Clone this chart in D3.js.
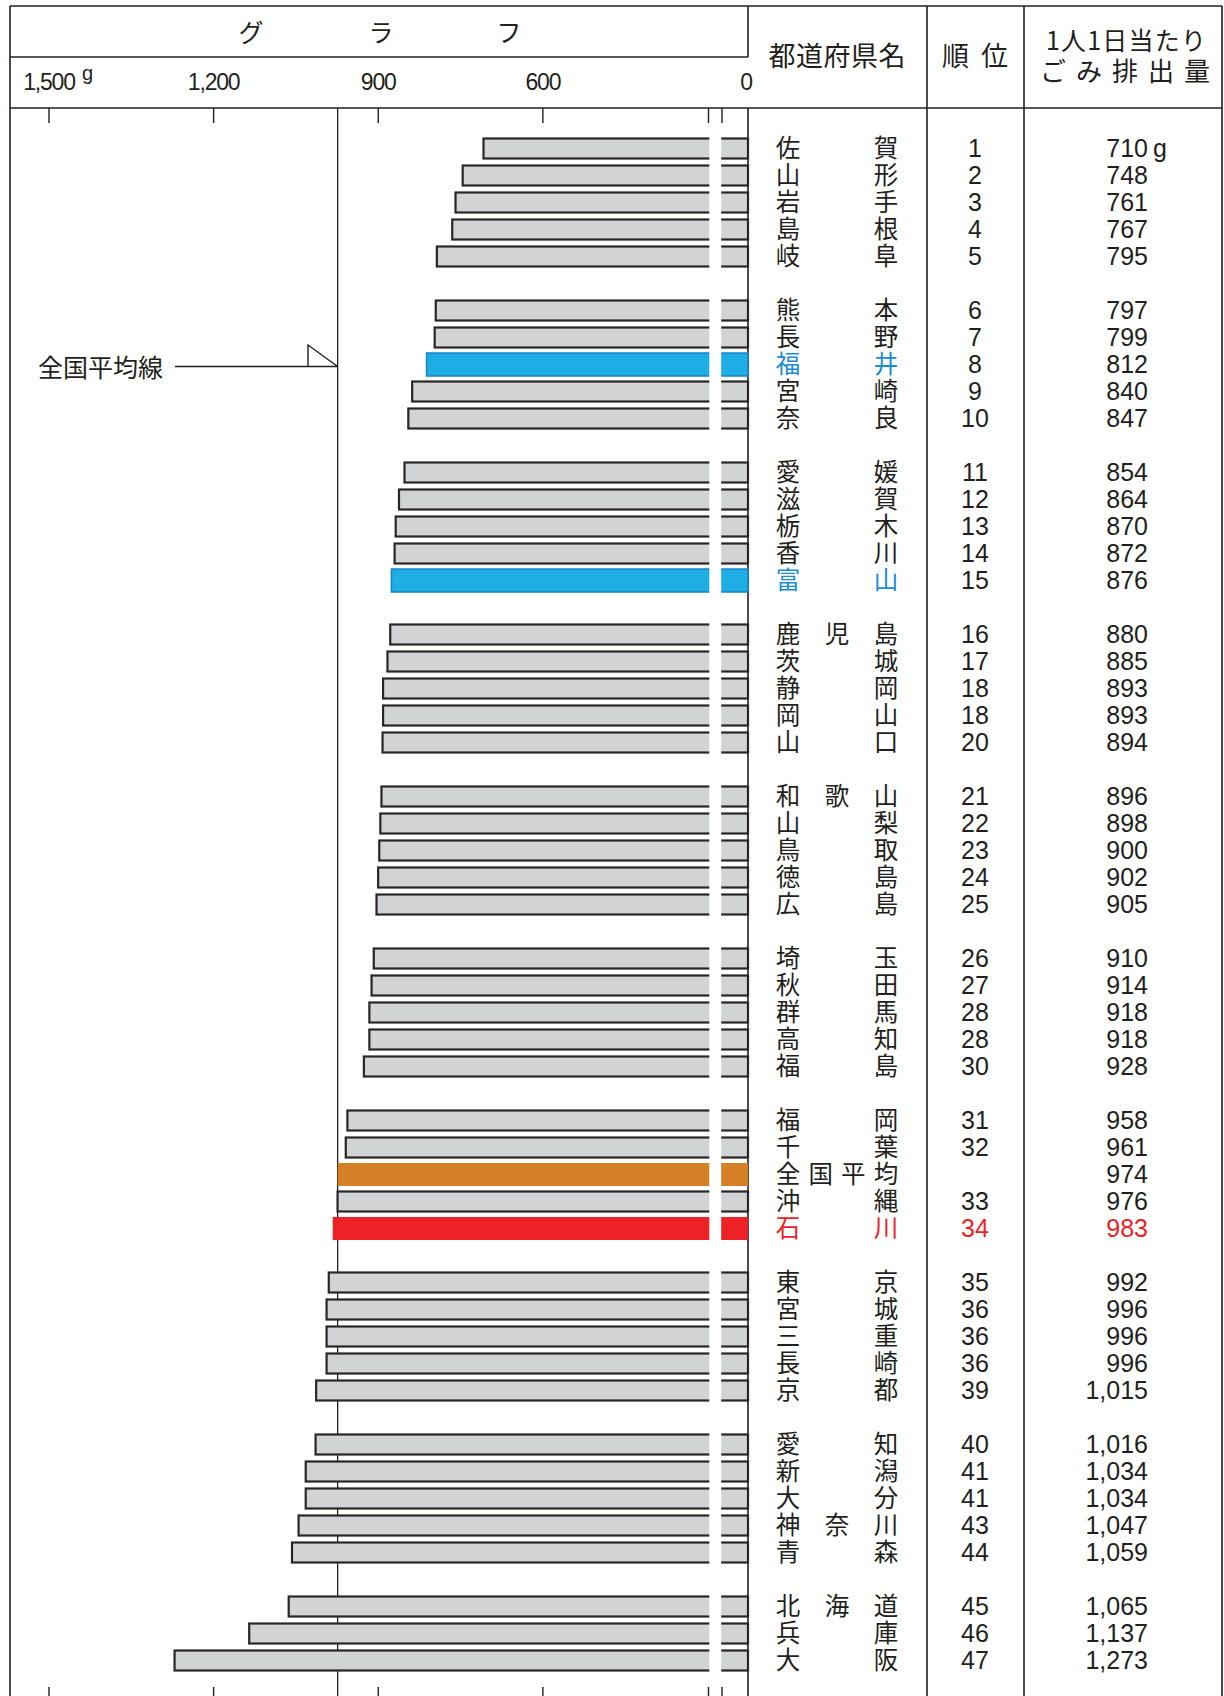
<!DOCTYPE html>
<html><head><meta charset="utf-8">
<script src="https://cdn.jsdelivr.net/npm/d3@7"></script>
<style>body{margin:0;background:#fff}svg{display:block}</style>
</head><body>
<svg id="c" width="1224" height="1696"></svg>
<script>
// ---- data ----
const prefectures = ["佐賀","山形","岩手","島根","岐阜","熊本","長野","福井","宮崎","奈良",
  "愛媛","滋賀","栃木","香川","富山","鹿児島","茨城","静岡","岡山","山口",
  "和歌山","山梨","鳥取","徳島","広島","埼玉","秋田","群馬","高知","福島",
  "福岡","千葉","全国平均","沖縄","石川","東京","宮城","三重","長崎","京都",
  "愛知","新潟","大分","神奈川","青森","北海道","兵庫","大阪"];
const ranks = ["1","2","3","4","5","6","7","8","9","10",
  "11","12","13","14","15","16","17","18","18","20",
  "21","22","23","24","25","26","27","28","28","30",
  "31","32","","33","34","35","36","36","36","39",
  "40","41","41","43","44","45","46","47"];
const amounts = [710,748,761,767,795,797,799,812,840,847,
  854,864,870,872,876,880,885,893,893,894,
  896,898,900,902,905,910,914,918,918,928,
  958,961,974,976,983,992,996,996,996,1015,
  1016,1034,1034,1047,1059,1065,1137,1273];
const blueNames = ["福井","富山"];
const averageName = "全国平均";
const redNames = ["石川"];
const tickValues = [1500,1200,900,600,0];
const tickLabels = ["1,500","1,200","900","600","0"];
const nationalAverage = 974;

// ---- setup ----
const ink = "#231f20";
const jp = "'Noto Sans CJK JP', sans-serif";
const num = "'Liberation Sans', Arial, sans-serif";
const svg = d3.select("#c");

const x = d3.scaleLinear().domain([0, 300, 1500]).range([748, 707.5, 49]);
const slotOf = i => Math.floor(i / 5) * 6 + i % 5;
const nSlots = slotOf(prefectures.length - 1) + 1;
const y = d3.scaleBand().domain(d3.range(nSlots))
  .range([135, 135 + nSlots * 27]).paddingInner(4 / 27).paddingOuter(2 / 27);

const rows = prefectures.map((p, i) => ({
  name: p, rank: ranks[i], value: amounts[i], slot: slotOf(i),
  kind: blueNames.includes(p) ? "blue" : p === averageName ? "avg" : redNames.includes(p) ? "red" : "gray"
}));

// ---- frame ----
const frame = svg.append("g").attr("stroke", ink).attr("stroke-width", 1.6).attr("fill", "none");
frame.append("line").attr("x1", 10).attr("x2", 1222).attr("y1", 6).attr("y2", 6);
frame.append("line").attr("x1", 10).attr("x2", 10).attr("y1", 6).attr("y2", 1696);
frame.append("line").attr("x1", 1222).attr("x2", 1222).attr("y1", 6).attr("y2", 1696);
frame.append("line").attr("x1", 10).attr("x2", 748).attr("y1", 57).attr("y2", 57);
frame.append("line").attr("x1", 10).attr("x2", 1222).attr("y1", 108).attr("y2", 108);
frame.append("line").attr("x1", 748).attr("x2", 748).attr("y1", 6).attr("y2", 57);
frame.append("line").attr("x1", 748).attr("x2", 748).attr("y1", 108).attr("y2", 1696);
frame.append("line").attr("x1", 927).attr("x2", 927).attr("y1", 6).attr("y2", 1696);
frame.append("line").attr("x1", 1024).attr("x2", 1024).attr("y1", 6).attr("y2", 1696);

// average line
svg.append("line").attr("x1", x(nationalAverage)).attr("x2", x(nationalAverage))
  .attr("y1", 108).attr("y2", 1696).attr("stroke", ink).attr("stroke-width", 1.3);

// ticks
const tickXs = tickValues.filter(v => v > 0).map(v => x(v)).concat([x(300) + 1, 722]);
const tg = svg.append("g").attr("stroke", ink).attr("stroke-width", 1.4);
tickXs.forEach(tx => {
  tg.append("line").attr("x1", tx).attr("x2", tx).attr("y1", 108).attr("y2", 123);
  tg.append("line").attr("x1", tx).attr("x2", tx).attr("y1", 1687).attr("y2", 1696);
});

// tick labels
svg.append("g").selectAll("text").data(tickValues).join("text")
  .attr("x", (d, i) => x(d) - (d === 0 ? 2 : 0)).attr("y", 90)
  .attr("text-anchor", "middle").attr("font-family", num).attr("font-size", 23)
  .attr("letter-spacing", "-1.2px").attr("fill", ink)
  .text((d, i) => tickLabels[i]);
svg.append("text").attr("x", 82).attr("y", 80).attr("font-family", num)
  .attr("font-size", 20).attr("fill", ink).text("g");

// header texts
const hdr = svg.append("g").attr("font-family", jp).attr("fill", ink);
[["グ", 251], ["ラ", 381], ["フ", 509]].forEach(([t, cx]) =>
  hdr.append("text").attr("x", cx).attr("y", 31).attr("dominant-baseline", "central")
    .attr("text-anchor", "middle").attr("font-size", 25).text(t));
hdr.append("text").attr("x", 837).attr("y", 54).attr("dominant-baseline", "central")
  .attr("text-anchor", "middle").attr("font-size", 27)
  .attr("textLength", 137).attr("lengthAdjust", "spacing").text("都道府県名");
hdr.append("text").attr("x", 975).attr("y", 54).attr("dominant-baseline", "central")
  .attr("text-anchor", "middle").attr("font-size", 27)
  .attr("textLength", 66).attr("lengthAdjust", "spacing").text("順位");
hdr.append("text").attr("x", 1126).attr("y", 39).attr("dominant-baseline", "central")
  .attr("text-anchor", "middle").attr("font-size", 25)
  .attr("textLength", 160).attr("lengthAdjust", "spacing").text("1人1日当たり");
hdr.append("text").attr("x", 1125).attr("y", 69).attr("dominant-baseline", "central")
  .attr("text-anchor", "middle").attr("font-size", 26)
  .attr("textLength", 170).attr("lengthAdjust", "spacing").text("ごみ排出量");

// bars
const fills = {gray: "#d1d3d4", blue: "#1eaee3", avg: "#d57f27", red: "#ec2227"};
svg.append("g").selectAll("rect").data(rows).join("rect")
  .attr("x", d => d.kind === "gray" ? x(d.value) + 1 : x(d.value))
  .attr("y", d => d.kind === "gray" ? y(d.slot) + 1.5 : y(d.slot))
  .attr("width", d => x(0) - x(d.value) - (d.kind === "gray" ? 1 : 0))
  .attr("height", d => d.kind === "gray" ? y.bandwidth() - 3 : y.bandwidth())
  .attr("fill", d => fills[d.kind])
  .attr("stroke", d => d.kind === "gray" ? "#2a2627" : d.kind === "blue" ? "#1583c6" : "none")
  .attr("stroke-width", d => d.kind === "gray" ? 2.2 : 1.5);

// axis break (white gap)
svg.append("rect").attr("x", x(300) + 1.8).attr("y", 124).attr("width", 722 - x(300) - 2.6)
  .attr("height", 1562).attr("fill", "#fff");

// national average label
svg.append("text").attr("x", 38).attr("y", 366).attr("dominant-baseline", "central")
  .attr("font-family", jp).attr("font-size", 25).attr("fill", ink).text("全国平均線");
svg.append("path")
  .attr("d", `M175,366.5H${x(nationalAverage)}M308,366.5V345L${x(nationalAverage)},366.5`)
  .attr("fill", "none").attr("stroke", ink).attr("stroke-width", 1.4);

// names
const textColor = d => d.kind === "blue" ? "#1a8dd0" : d.kind === "red" ? "#ec2227" : ink;
const nameG = svg.append("g").attr("font-family", jp).attr("font-size", 24.5);
rows.forEach(d => {
  const chars = d.name.split("");
  const px = d3.scalePoint().domain(d3.range(chars.length)).range([788, 886]);
  nameG.selectAll(null).data(chars).join("text")
    .attr("x", (c, k) => px(k)).attr("y", y(d.slot) + y.bandwidth() / 2 - 2)
    .attr("text-anchor", "middle").attr("dominant-baseline", "central")
    .attr("fill", textColor(d)).text(c => c);
});

// ranks and amounts
const numColor = d => d.kind === "red" ? "#ec2227" : ink;
svg.append("g").selectAll("text").data(rows).join("text")
  .attr("x", 975).attr("y", d => y(d.slot) + y.bandwidth() / 2 - 1).attr("dy", "0.36em")
  .attr("text-anchor", "middle").attr("font-family", num).attr("font-size", 25)
  .attr("fill", numColor).text(d => d.rank);
const fmt = d3.format(",");
svg.append("g").selectAll("text").data(rows).join("text")
  .attr("x", 1148).attr("y", d => y(d.slot) + y.bandwidth() / 2 - 1).attr("dy", "0.36em")
  .attr("text-anchor", "end").attr("font-family", num).attr("font-size", 25)
  .attr("fill", numColor).text(d => fmt(d.value));
svg.append("text").attr("x", 1153).attr("y", y(0) + y.bandwidth() / 2 - 1).attr("dy", "0.36em")
  .attr("font-family", num).attr("font-size", 25).attr("fill", ink).text("g");
</script>
</body></html>
